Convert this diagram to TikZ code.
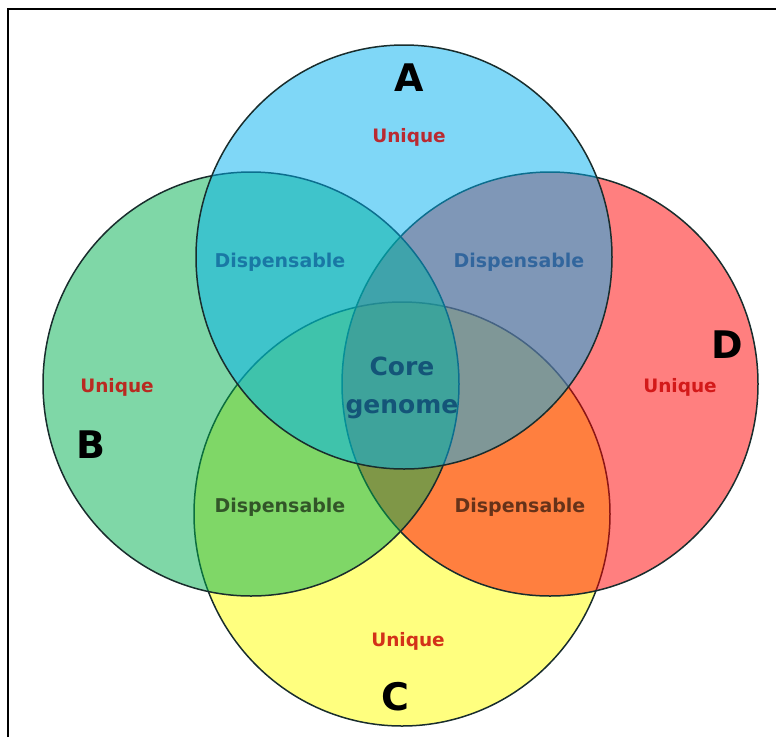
\documentclass[tikz,border=0pt]{standalone}
\usepackage{fontspec}
\setmainfont{DejaVu Sans}
\usetikzlibrary{shapes.geometric}

\definecolor{setA}{RGB}{0,176,240}
\definecolor{setB}{RGB}{0,176,80}
\definecolor{setC}{RGB}{255,255,0}
\definecolor{setD}{RGB}{255,0,0}
\definecolor{rim}{RGB}{25,45,45}
\definecolor{uniqred}{RGB}{200,0,0}
\definecolor{dispblue}{RGB}{0,70,140}
\definecolor{coreblue}{RGB}{20,85,120}

\tikzset{
  ring/.style={ellipse, draw=rim, line width=1.5pt, fill opacity=0.5,
    minimum width=416pt, minimum height=424pt, inner sep=0pt},
  setname/.style={font=\fontsize{38}{38}\selectfont\bfseries},
  uniqtext/.style={text=uniqred, text opacity=0.8,
    font=\fontsize{18.5}{20}\selectfont\bfseries},
  disptext/.style={text opacity=0.6, font=\fontsize{19}{20}\selectfont\bfseries},
}

\begin{document}
\begin{tikzpicture}[x=1pt,y=-1pt]
	\useasboundingbox (0,0) rectangle (776,737);
	% frame
	\draw [line width=1.5pt] (8,737) -- (8,9) -- (776,9);
	% the four sets
	\node [ring, fill=setC] (circC) at (402,514) {};
	\node [ring, fill=setD] (circD) at (550,384) {};
	\node [ring, fill=setB] (circB) at (251,384) {};
	\node [ring, fill=setA] (circA) at (404,257) {};
	% set names
	\node [setname] (lblA) at (409,78) {A};
	\node [setname] (lblB) at (91,445) {B};
	\node [setname] (lblC) at (395,697) {C};
	\node [setname] (lblD) at (727,345) {D};
	% unique parts
	\node [uniqtext] (uniqA) at (409,137) {Unique};
	\node [uniqtext] (uniqB) at (117,387) {Unique};
	\node [uniqtext] (uniqC) at (408,641) {Unique};
	\node [uniqtext] (uniqD) at (680,387) {Unique};
	% dispensable parts
	\node [disptext, text=dispblue] (dispAB) at (280,262) {Dispensable};
	\node [disptext, text=dispblue] (dispAD) at (519,262) {Dispensable};
	\node [disptext, text=black] (dispBC) at (280,507) {Dispensable};
	\node [disptext, text=black] (dispCD) at (520,507) {Dispensable};
	% core
	\node [text=coreblue, align=center, font=\fontsize{25}{38}\selectfont\bfseries]
		(core) at (402,388) {Core\\genome};
\end{tikzpicture}
\end{document}
